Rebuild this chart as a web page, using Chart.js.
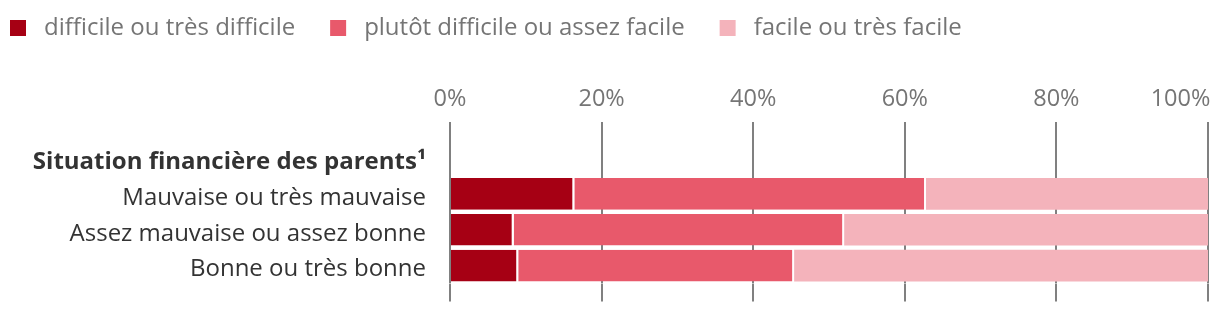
<!DOCTYPE html>
<html><head><meta charset="utf-8">
<script src="https://cdn.jsdelivr.net/npm/chart.js@4/dist/chart.umd.min.js"></script>
<style>html,body{margin:0;padding:0;background:#fff}#wrap{width:1220px;height:322px;position:relative}</style>
</head><body><div id="wrap"><canvas id="c"></canvas></div>
<script>
const categories = ['Situation financière des parents¹', 'Mauvaise ou très mauvaise', 'Assez mauvaise ou assez bonne', 'Bonne ou très bonne'];
const seriesNames = ['difficile ou très difficile', 'plutôt difficile ou assez facile', 'facile ou très facile'];
const difficile = [null, 16.4, 8.4, 9.0];
const plutot = [null, 46.4, 43.6, 36.4];
const facile = [null, 37.2, 48.0, 54.6];
const xTickValues = [0, 20, 40, 60, 80, 100];
const xTickLabels = ['0%', '20%', '40%', '60%', '80%', '100%'];
const seriesColors = ['#a60014', '#e8596b', '#f4b3bb'];

const FONT = '"Open Sans", "Liberation Sans", sans-serif';
const LEG_FS = 24, TICK_FS = 23.5, CAT_FS = 24;
const PAD_TOP = 10, PLOT_TOP = 140, PLOT_LEFT = 450, PAD_BOTTOM = 12, TICK_LEN = 18;

// last tick label sits inside the canvas: pad it with trailing spaces
const mctx = document.createElement('canvas').getContext('2d');
mctx.font = TICK_FS + 'px ' + FONT;
function tickText(i) {
  const t = xTickLabels[i];
  if (i !== xTickLabels.length - 1) return t;
  const w = mctx.measureText(t).width, sw = mctx.measureText(' ').width;
  return t + ' '.repeat(Math.max(0, Math.round((w - 4) / sw)));
}

const series = [difficile, plutot, facile];
const datasets = series.map((d, i) => ({
  label: seriesNames[i],
  data: d,
  backgroundColor: seriesColors[i],
  borderColor: '#ffffff',
  borderWidth: i < series.length - 1 ? {left: 0, right: 2, top: 0, bottom: 0} : 0,
  borderSkipped: false,
  barPercentage: 0.88,
  categoryPercentage: 1.0
}));

const xCommon = {
  min: 0, max: 100,
  afterBuildTicks: s => { s.ticks = xTickValues.map(v => ({value: v})); },
  border: {display: false},
  grid: {color: '#808080', lineWidth: 2, tickLength: TICK_LEN, tickColor: '#808080'}
};

new Chart(document.getElementById('c'), {
  type: 'bar',
  data: {labels: categories, datasets},
  options: {
    indexAxis: 'y',
    responsive: true,
    maintainAspectRatio: false,
    animation: false,
    layout: {padding: {top: PAD_TOP, right: 12, bottom: PAD_BOTTOM, left: 0}},
    plugins: {
      tooltip: {enabled: false},
      legend: {
        position: 'top', align: 'start',
        labels: {
          font: {family: FONT, size: LEG_FS},
          color: '#757575',
          boxWidth: 28, boxHeight: 28, padding: 4,
          generateLabels: chart => chart.data.datasets.map((ds, i) => ({
            text: ds.label + '    ',
            fillStyle: ds.backgroundColor,
            strokeStyle: '#ffffff',
            lineWidth: 12,
            fontColor: '#757575',
            hidden: false,
            datasetIndex: i
          }))
        }
      }
    },
    scales: {
      x: Object.assign({}, xCommon, {
        position: 'top', stacked: true,
        ticks: {
          font: {family: FONT, size: TICK_FS}, color: '#757575', padding: 9, maxRotation: 0,
          callback: (v, i) => tickText(i)
        },
        afterFit: s => {
          s.height = PLOT_TOP - PAD_TOP - s.chart.legend.height;
          s.paddingLeft = 0; s.paddingRight = 0;
        }
      }),
      x2: Object.assign({}, xCommon, {
        position: 'bottom',
        ticks: {display: false},
        grid: {color: '#808080', lineWidth: 2, tickLength: TICK_LEN, drawOnChartArea: false},
        afterFit: s => { s.height = TICK_LEN; s.paddingLeft = 0; s.paddingRight = 0; }
      }),
      y: {
        stacked: true,
        border: {display: false},
        grid: {display: false, drawTicks: false},
        ticks: {
          color: '#333333', padding: 24, labelOffset: 4,
          font: ctx => ({family: FONT, size: CAT_FS, weight: ctx.index === 0 ? 'bold' : 'normal'})
        },
        afterFit: s => { s.width = PLOT_LEFT; }
      }
    }
  }
});
</script>
</body></html>
